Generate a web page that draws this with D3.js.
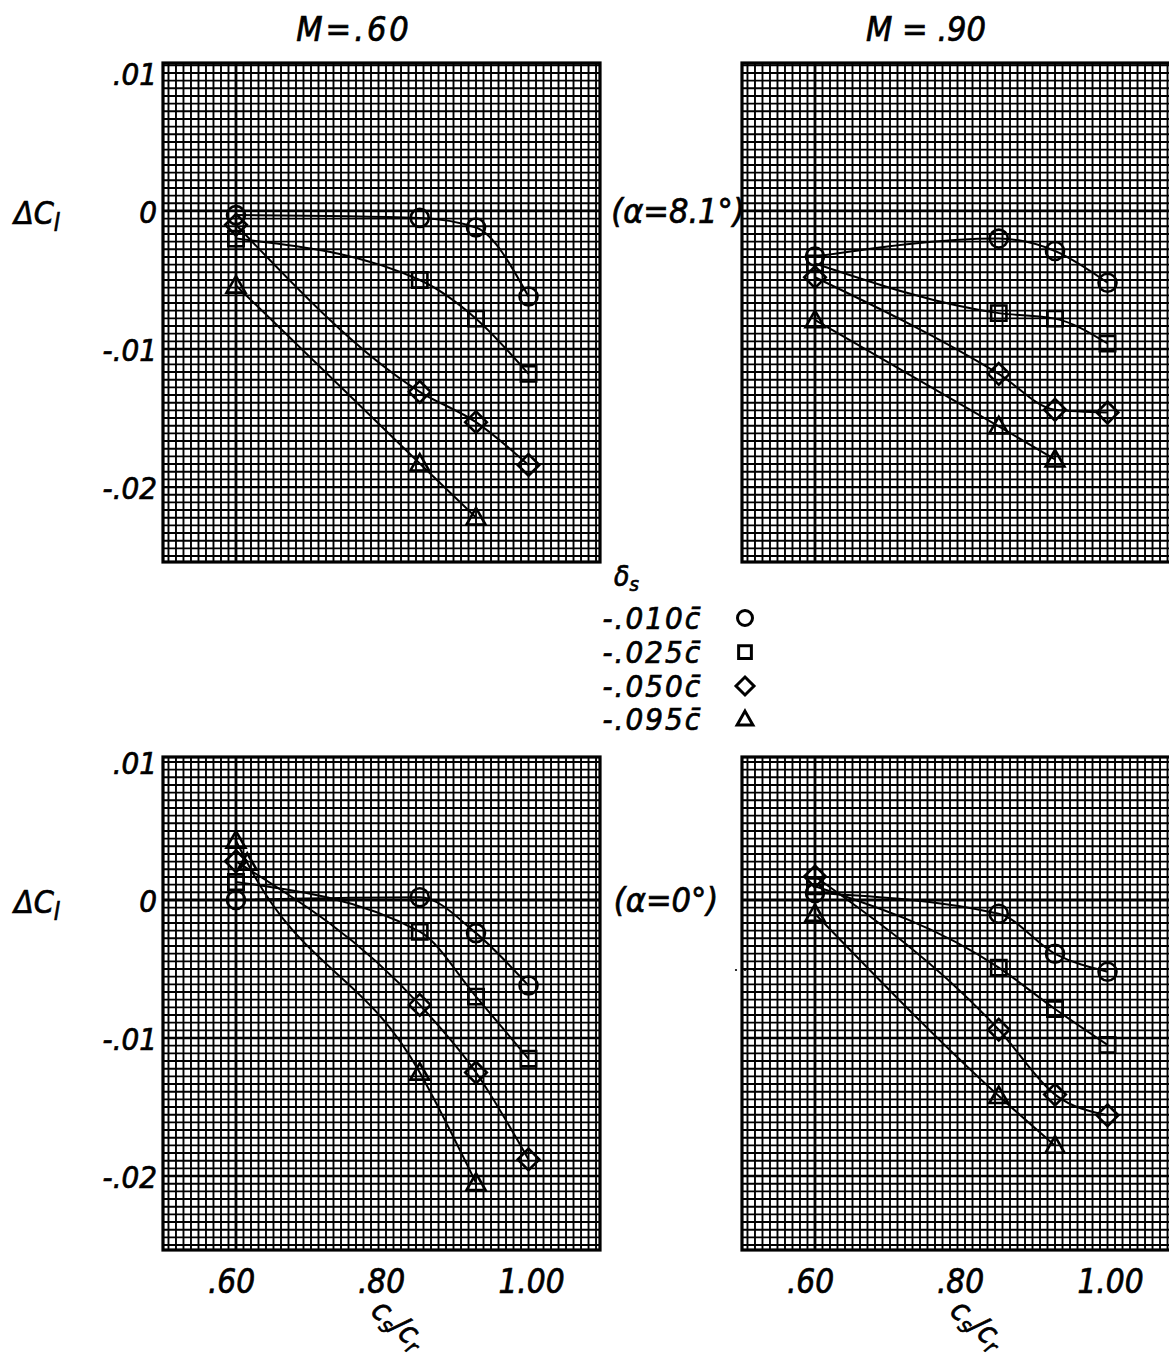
<!DOCTYPE html>
<html>
<head>
<meta charset="utf-8">
<script src="https://cdn.jsdelivr.net/npm/d3@7"></script>
<style>
  html, body { margin: 0; padding: 0; background: #fff; }
  svg { display: block; }
  .lbl { font-family: "DejaVu Sans Condensed", "DejaVu Sans", sans-serif; font-stretch: condensed;
         font-style: italic; fill: #000; stroke: #000; stroke-width: 0.7px; }
</style>
</head>
<body>
<svg id="chart" width="1169" height="1367"></svg>
<script>
// ---------------- data ----------------
const csCr = [0.60, 0.845, 0.92, 0.99];          // c_s/c_r stations
const csCrTri = [0.60, 0.845, 0.92];             // triangle stations
const csCrTriB = [0.60, 0.615, 0.845, 0.92];     // triangle stations M=.60 alpha=0

// M = .60, alpha = 8.1 deg
const m60a8Circle  = [-0.0003, -0.0005, -0.0012, -0.0062];
const m60a8Square  = [-0.0020, -0.0050, -0.0078, -0.0118];
const m60a8Diamond = [-0.0010, -0.0131, -0.0153, -0.0184];
const m60a8Tri     = [-0.0054, -0.0183, -0.0222];
// M = .90, alpha = 8.1 deg
const m90a8Circle  = [-0.0033, -0.0020, -0.0029, -0.0052];
const m90a8Square  = [-0.0038, -0.0074, -0.0078, -0.0096];
const m90a8Diamond = [-0.0048, -0.0118, -0.0144, -0.0146];
const m90a8Tri     = [-0.0079, -0.0156, -0.0180];
// M = .60, alpha = 0 deg
const m60a0Circle  = [0.0000, 0.0002, -0.0024, -0.0062];
const m60a0Square  = [0.0013, -0.0023, -0.0070, -0.0115];
const m60a0Diamond = [0.0028, -0.0076, -0.0125, -0.0188];
const m60a0Tri     = [0.0043, 0.0027, -0.0125, -0.0205];
// M = .90, alpha = 0 deg
const m90a0Circle  = [0.0005, -0.0010, -0.0039, -0.0052];
const m90a0Square  = [0.0010, -0.0049, -0.0079, -0.0105];
const m90a0Diamond = [0.0017, -0.0094, -0.0141, -0.0156];
const m90a0Tri     = [-0.0010, -0.0142, -0.0178];

const yTicks = [0.01, 0, -0.01, -0.02];
const yTickLabels = [".01", "0", "-.01", "-.02"];
const xTicks = [0.60, 0.80, 1.00];
const xTickLabels = [".60", ".80", "1.00"];
const machTitles = ["M=.60", "M = .90"];
const alphaLabels = ["(\u03B1=8.1\u00B0)", "(\u03B1=0\u00B0)"];
const legendLabels = ["-.010c\u0304", "-.025c\u0304", "-.050c\u0304", "-.095c\u0304"];
const symbolsOrder = ["circle", "square", "diamond", "triangle"];

// ---------------- layout ----------------
const svg = d3.select("#chart");
const panelDefs = [
  { id: "tl", x0: 163, y0: 63,  w: 437, h: 499, yDom: [-0.02543, 0.01072], left: true,  bottom: false,
    series: [[csCr, m60a8Circle, "circle"], [csCr, m60a8Square, "square"], [csCr, m60a8Diamond, "diamond"], [csCrTri, m60a8Tri, "triangle"]] },
  { id: "tr", x0: 742, y0: 63,  w: 437, h: 499, yDom: [-0.02543, 0.01072], left: false, bottom: false,
    series: [[csCr, m90a8Circle, "circle"], [csCr, m90a8Square, "square"], [csCr, m90a8Diamond, "diamond"], [csCrTri, m90a8Tri, "triangle"]] },
  { id: "bl", x0: 163, y0: 757, w: 437, h: 493, yDom: [-0.02536, 0.01036], left: true,  bottom: true,
    series: [[csCr, m60a0Circle, "circle"], [csCr, m60a0Square, "square"], [csCr, m60a0Diamond, "diamond"], [csCrTriB, m60a0Tri, "triangle"]] },
  { id: "br", x0: 742, y0: 757, w: 437, h: 493, yDom: [-0.02536, 0.01036], left: false, bottom: true,
    series: [[csCr, m90a0Circle, "circle"], [csCr, m90a0Square, "square"], [csCr, m90a0Diamond, "diamond"], [csCrTri, m90a0Tri, "triangle"]] }
];
const xDom = [0.5027, 1.0853];

function symbolPath(type, s) {
  const p = d3.path();
  if (type === "circle") {
    p.moveTo(s, 0); p.arc(0, 0, s, 0, 2 * Math.PI);
  } else if (type === "square") {
    const h = s * 0.85;
    p.rect(-h, -h, 2 * h, 2 * h);
  } else if (type === "diamond") {
    const h = s * 1.2;
    p.moveTo(0, -h); p.lineTo(h, 0); p.lineTo(0, h); p.lineTo(-h, 0); p.closePath();
  } else {
    const h = s * 1.05;
    p.moveTo(0, -h); p.lineTo(h, h * 0.75); p.lineTo(-h, h * 0.75); p.closePath();
  }
  return p.toString();
}

const defs = svg.append("defs");

panelDefs.forEach(pd => {
  const x = d3.scaleLinear().domain(xDom).range([0, pd.w]);
  const y = d3.scaleLinear().domain(pd.yDom).range([pd.h, 0]);
  const g = svg.append("g").attr("transform", `translate(${pd.x0},${pd.y0})`);

  defs.append("clipPath").attr("id", "clip-" + pd.id)
    .append("rect").attr("x", 0).attr("y", 0).attr("width", pd.w).attr("height", pd.h);
  const inner = g.append("g").attr("clip-path", `url(#clip-${pd.id})`);

  // graph paper
  inner.append("rect").attr("width", pd.w).attr("height", pd.h).attr("fill", "#fff");
  const xLines = d3.range(-12, 60).map(i => 0.60 + i * 0.01).filter(v => v > xDom[0] && v < xDom[1]);
  const yStep = 0.01 / 18;
  const yLines = d3.range(-60, 30).map(i => i * yStep).filter(v => v > pd.yDom[0] && v < pd.yDom[1]);
  inner.append("g").selectAll("line").data(xLines).join("line")
    .attr("x1", d => x(d)).attr("x2", d => x(d)).attr("y1", 0).attr("y2", pd.h)
    .attr("stroke", "#000").attr("stroke-width", 1.9);
  inner.append("g").selectAll("line").data(yLines).join("line")
    .attr("y1", d => y(d)).attr("y2", d => y(d)).attr("x1", 0).attr("x2", pd.w)
    .attr("stroke", "#000").attr("stroke-width", 1.9);
  // heavier reference lines
  inner.append("line").attr("x1", x(0.60)).attr("x2", x(0.60)).attr("y1", 0).attr("y2", pd.h)
    .attr("stroke", "#000").attr("stroke-width", 2.8);
  inner.append("g").selectAll("line").data([0, -0.01, -0.02]).join("line")
    .attr("y1", d => y(d)).attr("y2", d => y(d)).attr("x1", 0).attr("x2", pd.w)
    .attr("stroke", "#000").attr("stroke-width", d => d === 0 ? 2.8 : 2.3);

  // curves
  const line = d3.line().x(d => x(d[0])).y(d => y(d[1])).curve(d3.curveMonotoneX);
  pd.series.forEach(([xs, ys]) => {
    const pts = xs.map((v, i) => [v, ys[i]]);
    inner.append("path").datum(pts).attr("d", line)
      .attr("fill", "none").attr("stroke", "#000").attr("stroke-width", 2);
  });
  pd.series.forEach(([xs, ys, sym]) => {
    const pts = xs.map((v, i) => [v, ys[i]]);
    inner.append("g").selectAll("path").data(pts).join("path")
      .attr("transform", d => `translate(${x(d[0])},${y(d[1])})`)
      .attr("d", symbolPath(sym, 9))
      .attr("fill", "none").attr("stroke", "#000").attr("stroke-width", 2.6);
  });

  // border
  g.append("rect").attr("width", pd.w).attr("height", pd.h)
    .attr("fill", "none").attr("stroke", "#000").attr("stroke-width", 3.2);

  // axes (tick labels only)
  if (pd.left) {
    const ax = g.append("g").call(
      d3.axisLeft(y).tickValues(yTicks).tickFormat((d, i) => yTickLabels[i]).tickSize(0).tickPadding(6));
    ax.select(".domain").remove();
    ax.selectAll("text").attr("class", "lbl").style("font-size", "31px")
      .attr("font-family", null).attr("dy", "0.36em");
  }
  if (pd.bottom) {
    const ax = g.append("g").attr("transform", `translate(0,${pd.h})`).call(
      d3.axisBottom(x).tickValues(xTicks).tickFormat((d, i) => xTickLabels[i]).tickSize(0).tickPadding(20));
    ax.select(".domain").remove();
    ax.selectAll("text").attr("class", "lbl").style("font-size", "33px")
      .attr("font-family", null).attr("dx", "-5");
    // c_s / c_r
    const t = g.append("text").attr("class", "lbl")
      .attr("transform", `translate(${x(0.80) + 6},${pd.h + 82}) rotate(40)`)
      .attr("text-anchor", "middle").style("font-size", "31px");
    t.append("tspan").text("c");
    t.append("tspan").attr("dy", 6).style("font-size", "22px").text("s");
    t.append("tspan").attr("dy", -6).text("/");
    t.append("tspan").text("c");
    t.append("tspan").attr("dy", 6).style("font-size", "22px").text("r");
  }
});

// titles
svg.append("text").attr("class", "lbl").attr("x", 354).attr("y", 41)
  .attr("text-anchor", "middle").style("font-size", "34px").style("letter-spacing", "3px").text(machTitles[0]);
svg.append("text").attr("class", "lbl").attr("x", 926).attr("y", 41)
  .attr("text-anchor", "middle").style("font-size", "34px").text(machTitles[1]);

// Delta C_l labels
[224, 913].forEach(yy => {
  const t = svg.append("text").attr("class", "lbl").attr("x", 14).attr("y", yy).style("font-size", "32px");
  t.append("tspan").text("\u0394C");
  t.append("tspan").attr("dy", 7).style("font-size", "24px").text("l");
});

// alpha labels
svg.append("text").attr("class", "lbl").attr("x", 678).attr("y", 223)
  .attr("text-anchor", "middle").style("font-size", "34px").text(alphaLabels[0]);
svg.append("text").attr("class", "lbl").attr("x", 666).attr("y", 912)
  .attr("text-anchor", "middle").style("font-size", "34px").text(alphaLabels[1]);

// legend
const dl = svg.append("text").attr("class", "lbl").attr("x", 614).attr("y", 586).style("font-size", "28px");
dl.append("tspan").text("\u03B4");
dl.append("tspan").attr("dy", 5).style("font-size", "20px").text("s");
const legY = [618, 652, 686, 719];
legendLabels.forEach((lab, i) => {
  svg.append("text").attr("class", "lbl").attr("x", 702).attr("y", legY[i] + 11)
    .attr("text-anchor", "end").style("font-size", "31px").style("letter-spacing", "2px").text(lab);
  svg.append("path").attr("transform", `translate(745,${legY[i]})`)
    .attr("d", symbolPath(symbolsOrder[i], 7.5))
    .attr("fill", "none").attr("stroke", "#000").attr("stroke-width", 3);
});

// small stray dots left of the lower right panel
svg.append("g").selectAll("circle").data([736, 745, 754]).join("circle")
  .attr("cx", d => d).attr("cy", 970).attr("r", 1.1).attr("fill", "#000");
</script>
</body>
</html>
